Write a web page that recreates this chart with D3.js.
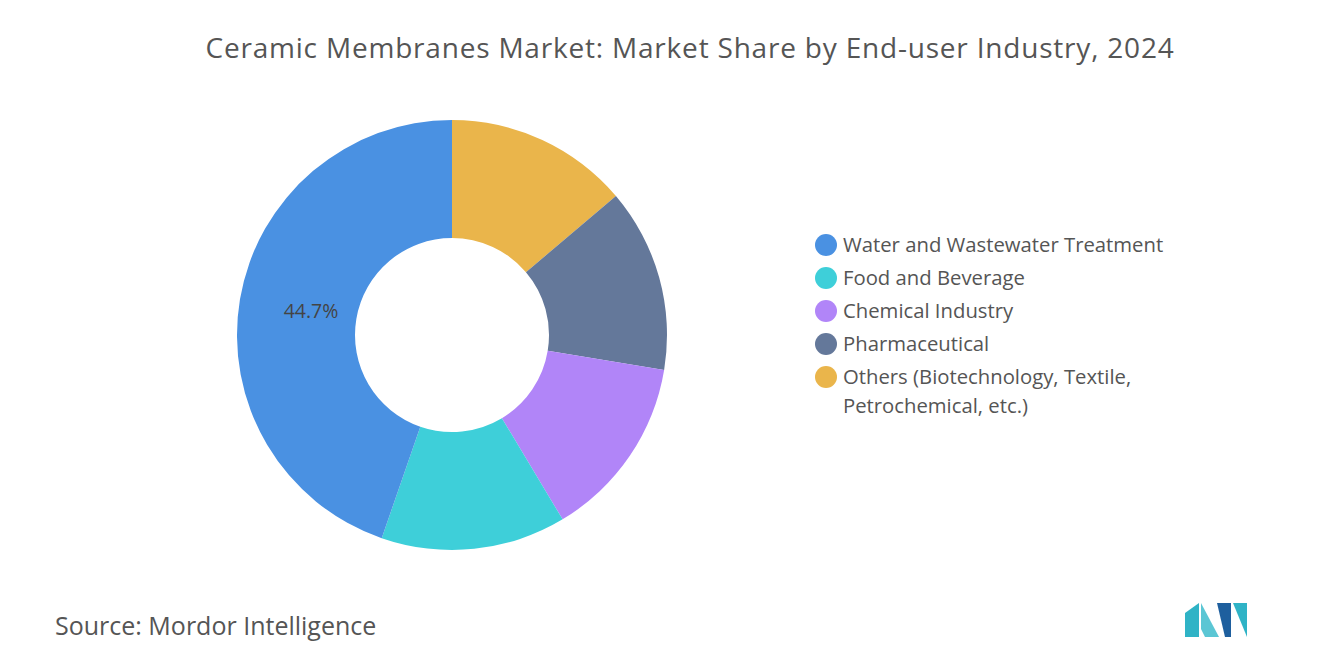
<!DOCTYPE html>
<html><head><meta charset="utf-8">
<script src="https://cdn.jsdelivr.net/npm/d3@7"></script>
<style>body{margin:0;background:#fff;font-family:"Open Sans",sans-serif;}</style>
</head><body><svg id="c" width="1320" height="665"></svg>
<script>
const categories = ["Others (Biotechnology, Textile, Petrochemical, etc.)","Pharmaceutical","Chemical Industry","Food and Beverage","Water and Wastewater Treatment"];
const values = [13.8, 13.8, 13.8, 13.9, 44.7];
const colors = ["#EAB54B","#64789A","#B185F8","#3ECFD9","#4A91E2"];
const legendOrder = [4,3,2,1,0];
const legendLines = [["Water and Wastewater Treatment"],["Food and Beverage"],["Chemical Industry"],["Pharmaceutical"],["Others (Biotechnology, Textile,","Petrochemical, etc.)"]];

const svg = d3.select("#c");
svg.append("text").attr("x",690).attr("y",58).attr("text-anchor","middle")
  .attr("font-size",28).attr("letter-spacing",0.8).attr("fill","#555").text("Ceramic Membranes Market: Market Share by End-user Industry, 2024");

const cx=452, cy=335, R=215, r=97;
const pie = d3.pie().sort(null).value(d=>d)(values);
const arc = d3.arc().innerRadius(r).outerRadius(R);
const g = svg.append("g").attr("transform",`translate(${cx},${cy})`);
g.selectAll("path").data(pie).join("path").attr("d",arc).attr("fill",(d,i)=>colors[i]);
g.append("text").attr("x",-141).attr("y",-17).attr("text-anchor","middle").attr("font-size",19.5).attr("fill","#444").text(values[4]+"%");

const lg = svg.append("g");
let y=245;
legendOrder.forEach((ci,k)=>{
  lg.append("circle").attr("cx",826).attr("cy",y).attr("r",11).attr("fill",colors[ci]);
  legendLines[k].forEach((t,j)=>{
    lg.append("text").attr("x",843).attr("y",y+7+j*29).attr("font-size",20.3).attr("fill","#555").text(t);
  });
  y+=33;
});

svg.append("text").attr("x",55).attr("y",635).attr("font-size",25).attr("fill","#555")
  .text("Source:  Mordor Intelligence");

const logo = svg.append("g").attr("transform","translate(1185,603)");
logo.append("path").attr("d","M0,34 L0,10 L14,0 L14,34 Z").attr("fill","#2fb3c6");
logo.append("path").attr("d","M16,0 L34,34 L20,34 L16,26 Z").attr("fill","#5bc6d4");
logo.append("path").attr("d","M32,0 L46,0 L46,34 L40,34 Z").attr("fill","#1e5f9e");
logo.append("path").attr("d","M48,0 L62,0 L62,34 Z").attr("fill","#2fb3c6");
</script></body></html>
